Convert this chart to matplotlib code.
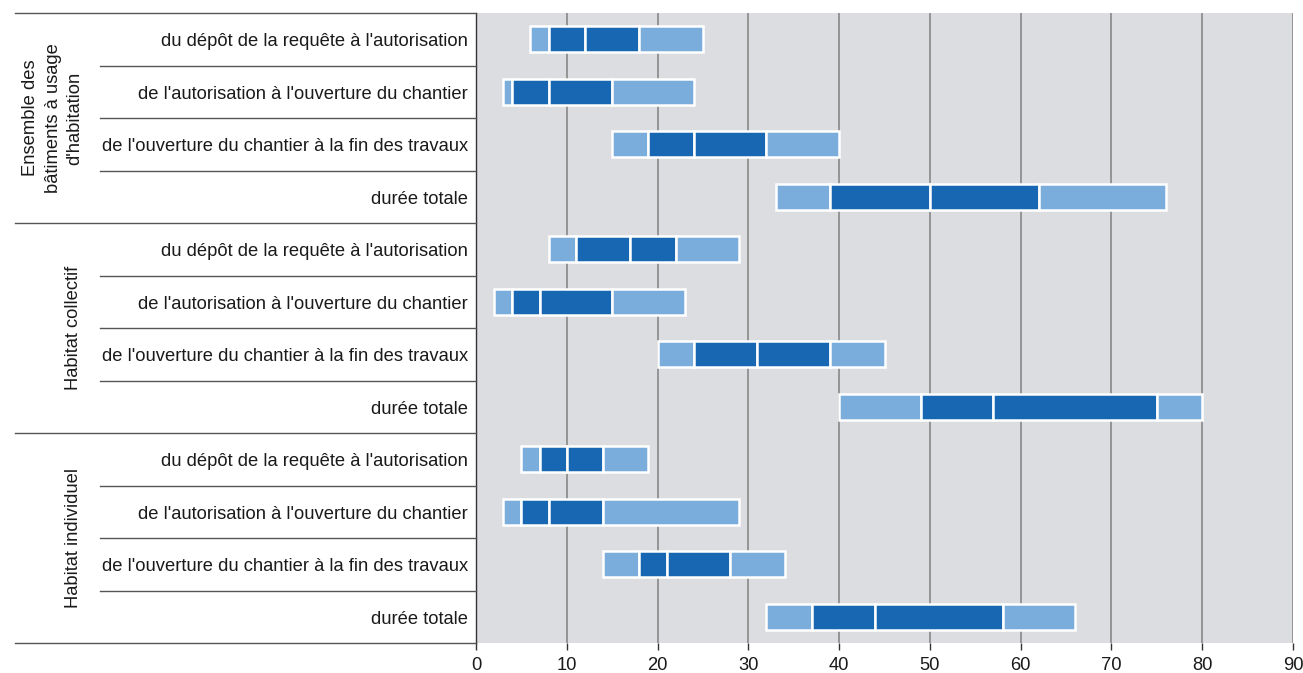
import matplotlib
matplotlib.use("Agg")
import matplotlib.pyplot as plt
import matplotlib.transforms as mtransforms
from matplotlib.lines import Line2D

plt.rcParams['font.family'] = ['Liberation Sans', 'DejaVu Sans']

categories = ["du dépôt de la requête à l'autorisation",
              "de l'autorisation à l'ouverture du chantier",
              "de l'ouverture du chantier à la fin des travaux",
              "durée totale"]
groups = ["Ensemble des\nbâtiments à usage\nd'habitation",
          "Habitat collectif",
          "Habitat individuel"]

d1  = [6, 3, 15, 33,   8, 2, 20, 40,   5, 3, 14, 32]
q1  = [8, 4, 19, 39,  11, 4, 24, 49,   7, 5, 18, 37]
med = [12, 8, 24, 50, 17, 7, 31, 57,  10, 8, 21, 44]
q3  = [18, 15, 32, 62, 22, 15, 39, 75, 14, 14, 28, 58]
d9  = [25, 24, 40, 76, 29, 23, 45, 80, 19, 29, 34, 66]

xticks = [0, 10, 20, 30, 40, 50, 60, 70, 80, 90]

light = '#7aaddc'
dark = '#1767b3'
bg = '#dcdde0'
fs = 13.2

W, H = 1303, 673
fig = plt.figure(figsize=(W / 100, H / 100), dpi=100)
left, right, top, bottom = 476, 1293, 13, 643
ax = fig.add_axes([left / W, 1 - bottom / H, (right - left) / W, (bottom - top) / H])
ax.set_facecolor(bg)

n = len(d1)
ax.set_xlim(0, 90)
ax.set_ylim(n, 0)

ax.set_axisbelow(True)
ax.grid(axis='x', color='#8f8f8f', linewidth=1.3)
ax.grid(axis='y', visible=False)

ys = [i + 0.5 for i in range(n)]
segs = [(d1, q1, light), (q1, med, dark), (med, q3, dark), (q3, d9, light)]
for a, b, c in segs:
    ax.barh(ys, [bb - aa for aa, bb in zip(a, b)], left=a, height=0.5,
            color=c, edgecolor='white', linewidth=1.8, zorder=3)

for s in ['top', 'right', 'bottom']:
    ax.spines[s].set_visible(False)
ax.spines['left'].set_color('#333333')
ax.spines['left'].set_linewidth(1.0)

ax.set_xticks(xticks)
ax.set_xticklabels([str(t) for t in xticks], fontsize=fs, color='#1a1a1a')
ax.tick_params(axis='x', length=5, width=1, color='#333333', pad=5)
ax.set_yticks([])

# labels and separators on the left
trans = mtransforms.blended_transform_factory(fig.transFigure, ax.transData)
ncat = len(categories)
for i in range(n):
    ax.text(468 / W, i + 0.55, categories[i % ncat], transform=trans,
            ha='right', va='center', fontsize=fs, color='#1a1a1a')
for k in range(n + 1):
    x0 = 15 / W if k % ncat == 0 else 100 / W
    line = Line2D([x0, left / W], [k, k], transform=trans,
                  color='#555555', linewidth=1.0, clip_on=False)
    fig.add_artist(line)

group_x = [53, 74, 74]
for g, name in enumerate(groups):
    yc = g * ncat + ncat / 2
    ax.text(group_x[g] / W, yc, name, transform=trans, rotation=90,
            ha='center', va='center', fontsize=fs, color='#1a1a1a',
            multialignment='center', linespacing=1.4)

fig.savefig('out.png', dpi=100, facecolor='white')
